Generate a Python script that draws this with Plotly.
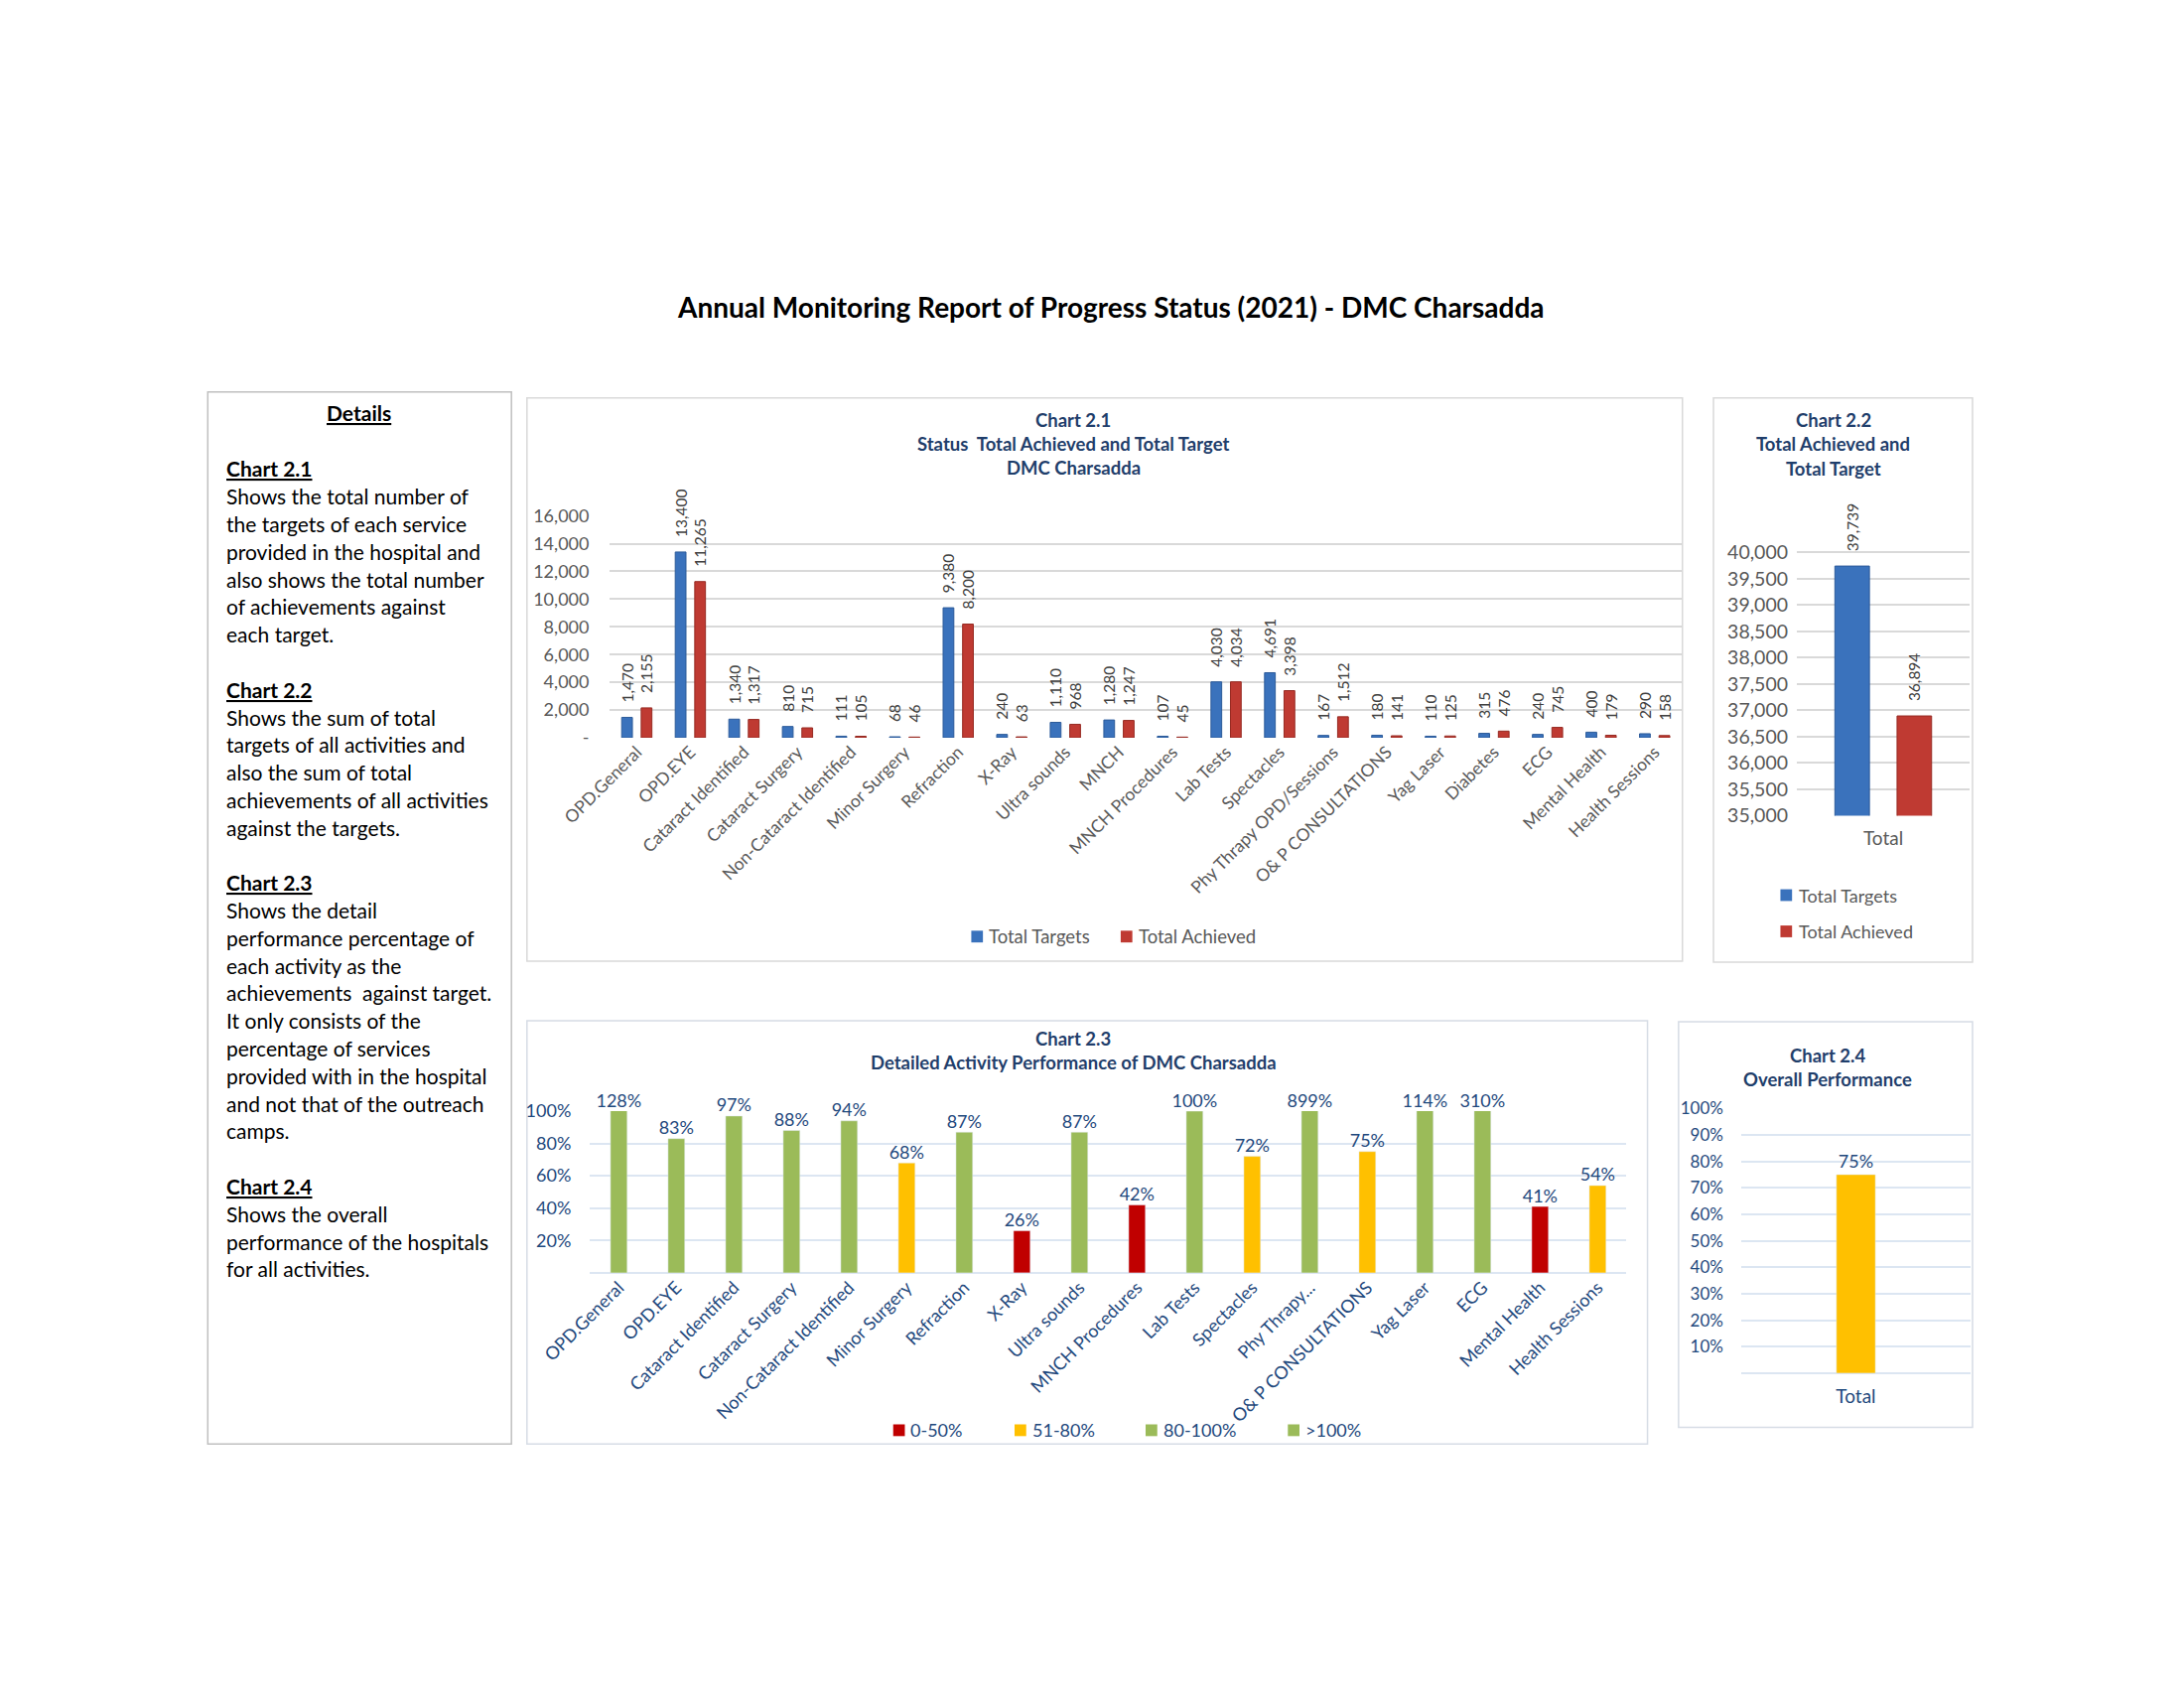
import plotly.graph_objects as go

W, H = 2200, 1700
FONT = "Lato"


def px(x):
    return x / W


def py(y):
    return 1 - y / H


# ---------------- data ----------------
activities = [
    "OPD.General", "OPD.EYE", "Cataract Identified", "Cataract Surgery",
    "Non-Cataract Identified", "Minor Surgery", "Refraction", "X-Ray",
    "Ultra sounds", "MNCH", "MNCH Procedures", "Lab Tests", "Spectacles",
    "Phy Thrapy OPD/Sessions", "O& P CONSULTATIONS", "Yag Laser", "Diabetes",
    "ECG", "Mental Health", "Health Sessions",
]
total_targets = [1470, 13400, 1340, 810, 111, 68, 9380, 240, 1110, 1280,
                 107, 4030, 4691, 167, 180, 110, 315, 240, 400, 290]
total_achieved = [2155, 11265, 1317, 715, 105, 46, 8200, 63, 968, 1247,
                  45, 4034, 3398, 1512, 141, 125, 476, 745, 179, 158]

total_category = ["Total"]
sum_targets = [39739]
sum_achieved = [36894]

perf_categories = [
    "OPD.General", "OPD.EYE", "Cataract Identified", "Cataract Surgery",
    "Non-Cataract Identified", "Minor Surgery", "Refraction", "X-Ray",
    "Ultra sounds", "MNCH Procedures", "Lab Tests", "Spectacles",
    "Phy Thrapy...", "O& P CONSULTATIONS", "Yag Laser", "ECG",
    "Mental Health", "Health Sessions",
]
perf_values = [1.28, 0.83, 0.97, 0.88, 0.94, 0.68, 0.87, 0.26, 0.87, 0.42,
               1.00, 0.72, 8.99, 0.75, 1.14, 3.10, 0.41, 0.54]

overall_category = ["Total"]
overall_perf = [0.75]

perf_legend = ["0-50%", "51-80%", "80-100%", ">100%"]

# ---------------- styles ----------------
BLUE = "#3A72BC"
RED = "#BF3A32"
C_RED = "#C00000"
C_YEL = "#FFC000"
C_GRN = "#9BBB59"
TITLE_BLUE = "#1F3E6B"
AX_BLUE = "#1F497D"
GRAY_TXT = "#595959"
GRID_GRAY = "#D9D9D9"
GRID_BLUE = "#DCE6F2"
PAD = "\u00a0\u00a0\u00a0"


def perf_color(v):
    if v <= 0.5:
        return C_RED
    if v < 0.8:
        return C_YEL
    return C_GRN


fig = go.Figure()

# ---------------- Chart 2.1 ----------------
fig.add_trace(go.Bar(
    x=activities, y=total_targets, name="Total Targets",
    marker=dict(color=BLUE, line=dict(color="#2B5A99", width=1)),
    width=0.2, offset=-0.282,
    texttemplate=PAD + "%{y:,}", textposition="outside", textangle=-90,
    constraintext="none", cliponaxis=False,
    textfont=dict(family=FONT, size=15.5, color="#404040"),
    xaxis="x", yaxis="y", showlegend=False,
))
fig.add_trace(go.Bar(
    x=activities, y=total_achieved, name="Total Achieved",
    marker=dict(color=RED, line=dict(color="#962A22", width=1)),
    width=0.2, offset=0.082,
    texttemplate=PAD + "%{y:,}", textposition="outside", textangle=-90,
    constraintext="none", cliponaxis=False,
    textfont=dict(family=FONT, size=15.5, color="#404040"),
    xaxis="x", yaxis="y", showlegend=False,
))

# ---------------- Chart 2.2 ----------------
fig.add_trace(go.Bar(
    x=total_category, y=sum_targets, name="Total Targets",
    marker=dict(color=BLUE, line=dict(color="#2B5A99", width=1)),
    width=0.2, offset=-0.28,
    texttemplate=PAD + "%{y:,}", textposition="outside", textangle=-90,
    constraintext="none", cliponaxis=True,
    textfont=dict(family=FONT, size=15.5, color="#404040"),
    xaxis="x2", yaxis="y2", showlegend=False,
))
fig.add_trace(go.Bar(
    x=total_category, y=sum_achieved, name="Total Achieved",
    marker=dict(color=RED, line=dict(color="#962A22", width=1)),
    width=0.2, offset=0.08,
    texttemplate=PAD + "%{y:,}", textposition="outside", textangle=-90,
    constraintext="none", cliponaxis=True,
    textfont=dict(family=FONT, size=15.5, color="#404040"),
    xaxis="x2", yaxis="y2", showlegend=False,
))

# ---------------- Chart 2.3 ----------------
fig.add_trace(go.Bar(
    x=perf_categories, y=perf_values,
    marker=dict(color=[perf_color(v) for v in perf_values]),
    width=0.29, cliponaxis=True,
    xaxis="x3", yaxis="y3", showlegend=False,
))
fig.add_trace(go.Scatter(
    x=perf_categories, y=[min(v, 1.0) for v in perf_values],
    customdata=perf_values, mode="text",
    texttemplate="%{customdata:.0%}", textposition="top center",
    textfont=dict(family=FONT, size=18, color=AX_BLUE),
    cliponaxis=False, xaxis="x3", yaxis="y3", showlegend=False,
))

# ---------------- Chart 2.4 ----------------
fig.add_trace(go.Bar(
    x=overall_category, y=overall_perf,
    marker=dict(color=[perf_color(v) for v in overall_perf]),
    width=0.17, texttemplate="%{y:.0%}", textposition="outside",
    cliponaxis=False,
    textfont=dict(family=FONT, size=18, color=AX_BLUE),
    xaxis="x4", yaxis="y4", showlegend=False,
))

# ---------------- axes ----------------
y1_ticks = list(range(0, 16001, 2000))
y2_ticks = list(range(35000, 40001, 500))
y3_ticks = [0.2, 0.4, 0.6, 0.8, 1.0]
y4_ticks = [0.1, 0.2, 0.3, 0.4, 0.5, 0.6, 0.7, 0.8, 0.9, 1.0]

Y2_BOT, Y2_40K, Y2_TOP = 820.6, 551.7, 470.0
y2_top_val = 40000 + (Y2_40K - Y2_TOP) / (Y2_BOT - Y2_40K) * 5000

fig.update_layout(
    width=W, height=H, autosize=False,
    margin=dict(l=0, r=0, t=0, b=0),
    paper_bgcolor="white", plot_bgcolor="white",
    barmode="overlay",
    font=dict(family=FONT, color=GRAY_TXT),
    xaxis=dict(domain=[px(577.6), px(1682)], type="category",
               range=[-0.5, 19.5], tickangle=-45, showgrid=False,
               showline=False, ticks="", zeroline=False,
               tickfont=dict(family=FONT, size=17.5, color=GRAY_TXT),
               anchor="y"),
    yaxis=dict(domain=[py(741), py(514.6)], range=[0, 16000],
               tickvals=y1_ticks,
               ticktext=["-" if v == 0 else f"{v:,}" for v in y1_ticks],
               gridcolor=GRID_GRAY, gridwidth=1.5, showline=False,
               zeroline=False, ticks="", ticklabelstandoff=20,
               tickfont=dict(family=FONT, size=18, color=GRAY_TXT),
               anchor="x"),
    xaxis2=dict(domain=[px(1801), px(1979)], type="category",
                range=[-0.5, 0.5], showgrid=False, showline=False,
                ticks="", zeroline=False, ticklabelstandoff=10,
                tickfont=dict(family=FONT, size=19, color=GRAY_TXT),
                anchor="y2"),
    yaxis2=dict(domain=[py(Y2_BOT), py(Y2_TOP)],
                range=[35000, y2_top_val],
                tickvals=y2_ticks, ticktext=[f"{v:,}" for v in y2_ticks],
                gridcolor=GRID_GRAY, gridwidth=1.5, showline=False,
                zeroline=False, ticks="", ticklabelstandoff=8,
                tickfont=dict(family=FONT, size=19.5, color=GRAY_TXT),
                anchor="x2"),
    xaxis3=dict(domain=[px(557), px(1625.3)], type="category",
                range=[-0.5, 17.5], tickangle=-45, showgrid=False,
                showline=False, ticks="", zeroline=False,
                tickfont=dict(family=FONT, size=18, color=AX_BLUE),
                anchor="y3"),
    yaxis3=dict(domain=[py(1287.3), py(1122.2)], range=[0, 1.0],
                tickvals=y3_ticks, tickformat=".0%",
                gridcolor=GRID_BLUE, gridwidth=2, showline=False,
                zeroline=True, zerolinecolor=GRID_BLUE, zerolinewidth=2,
                ticks="", ticklabelstandoff=18,
                tickfont=dict(family=FONT, size=18, color=AX_BLUE),
                anchor="x3"),
    xaxis4=dict(domain=[px(1743.6), px(1980)], type="category",
                range=[-0.5, 0.5], showgrid=False, showline=False,
                ticks="", zeroline=False, ticklabelstandoff=10,
                tickfont=dict(family=FONT, size=19, color=AX_BLUE),
                anchor="y4"),
    yaxis4=dict(domain=[py(1389.7), py(1119.4)], range=[0, 1.0],
                tickvals=y4_ticks, tickformat=".0%",
                gridcolor=GRID_BLUE, gridwidth=2, showline=False,
                zeroline=True, zerolinecolor=GRID_BLUE, zerolinewidth=2,
                ticks="", ticklabelstandoff=17,
                tickfont=dict(family=FONT, size=17, color=AX_BLUE),
                anchor="x4"),
)

shapes = []
annotations = []


def box(x0, y0, x1, y1, color):
    shapes.append(dict(type="rect", xref="paper", yref="paper",
                       x0=px(x0), x1=px(x1), y0=py(y1), y1=py(y0),
                       line=dict(color=color, width=1.5),
                       fillcolor="rgba(0,0,0,0)", layer="below"))


def text(x, y, s, size, color, xanchor="center", bold=False):
    annotations.append(dict(xref="paper", yref="paper", x=px(x), y=py(y),
                            text=f"<b>{s}</b>" if bold else s,
                            showarrow=False, xanchor=xanchor,
                            yanchor="middle",
                            font=dict(family=FONT, size=size, color=color)))


def legend_square(x, y, color, size=12):
    shapes.append(dict(type="rect", xref="paper", yref="paper",
                       x0=px(x - size / 2), x1=px(x + size / 2),
                       y0=py(y + size / 2), y1=py(y - size / 2),
                       fillcolor=color, line=dict(width=0)))


# boxes
box(163, 388, 476, 1462, "#BFBFBF")
box(492, 394, 1683, 969, GRID_GRAY)
box(1715, 394, 1982, 970, GRID_GRAY)
box(492, 1030, 1647, 1462, "#D6DCE5")
box(1679, 1031, 1982, 1445, "#D6DCE5")

# main title
text(1094, 301, "Annual Monitoring Report of Progress Status (2021) - DMC Charsadda",
     28, "#000000", bold=True)

# chart titles
text(1055, 416.5, "Chart 2.1", 18.5, TITLE_BLUE, bold=True)
text(1055, 440.7, "Status  Total Achieved and Total Target", 18.5, TITLE_BLUE, bold=True)
text(1055, 464.9, "DMC Charsadda", 18.5, TITLE_BLUE, bold=True)

text(1838.5, 416.5, "Chart 2.2", 18.5, TITLE_BLUE, bold=True)
text(1838.5, 440.7, "Total Achieved and", 18.5, TITLE_BLUE, bold=True)
text(1838.5, 466.3, "Total Target", 18.5, TITLE_BLUE, bold=True)

text(1055, 1048.2, "Chart 2.3", 18.5, TITLE_BLUE, bold=True)
text(1055, 1072.4, "Detailed Activity Performance of DMC Charsadda", 18.5, TITLE_BLUE, bold=True)

text(1833, 1065, "Chart 2.4", 18.5, TITLE_BLUE, bold=True)
text(1833, 1089.5, "Overall Performance", 18.5, TITLE_BLUE, bold=True)

# legend chart 2.1
legend_square(956, 944, BLUE)
text(966, 944, "Total Targets", 18.5, GRAY_TXT, xanchor="left")
legend_square(1110, 944, RED)
text(1120, 944, "Total Achieved", 18.5, GRAY_TXT, xanchor="left")

# legend chart 2.2
legend_square(1790, 901.7, BLUE)
text(1801, 901.7, "Total Targets", 18, GRAY_TXT, xanchor="left")
legend_square(1790, 938.7, RED)
text(1801, 938.7, "Total Achieved", 18, GRAY_TXT, xanchor="left")

# legend chart 2.3
leg_colors = [C_RED, C_YEL, C_GRN, C_GRN]
leg_x = [875.5, 1000.6, 1135.7, 1282.3]
for lx, lc, lt in zip(leg_x, leg_colors, perf_legend):
    legend_square(lx, 1448, lc)
    text(lx + 10, 1448, lt, 18, AX_BLUE, xanchor="left")

# details panel
text(319, 409, "<u>Details</u>", 21, "#000000", bold=True)
details = [
    ("h", "Chart 2.1"),
    "Shows the total number of",
    "the targets of each service",
    "provided in the hospital and",
    "also shows the total number",
    "of achievements against",
    "each target.",
    "",
    ("h", "Chart 2.2"),
    "Shows the sum of total",
    "targets of all activities and",
    "also the sum of total",
    "achievements of all activities",
    "against the targets.",
    "",
    ("h", "Chart 2.3"),
    "Shows the detail",
    "performance percentage of",
    "each activity as the",
    "achievements  against target.",
    "It only consists of the",
    "percentage of services",
    "provided with in the hospital",
    "and not that of the outreach",
    "camps.",
    "",
    ("h", "Chart 2.4"),
    "Shows the overall",
    "performance of the hospitals",
    "for all activities.",
]
for i, item in enumerate(details):
    y = 466.3 + i * 28.17
    if isinstance(item, tuple):
        text(180, y, f"<u>{item[1]}</u>", 21, "#000000", xanchor="left", bold=True)
    elif item:
        text(180, y, item, 21, "#000000", xanchor="left")

fig.update_layout(shapes=shapes, annotations=annotations)

fig.write_html("out.html", config={"displayModeBar": False},
               post_script="document.body.style.margin='0';")
